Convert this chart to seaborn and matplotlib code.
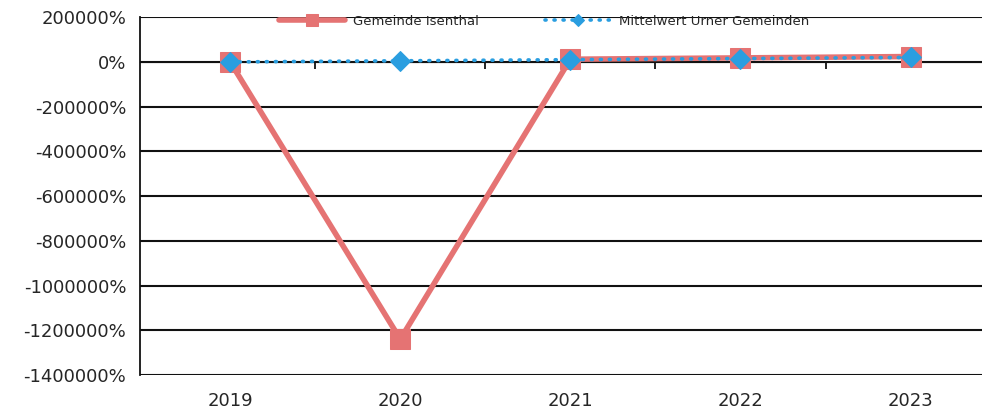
import numpy as np
import pandas as pd
import seaborn as sns
import matplotlib.pyplot as plt
from matplotlib.ticker import FuncFormatter

years = ['2019', '2020', '2021', '2022', '2023']
isenthal = [0, -1240000, 12000, 18000, 24000]
mittelwert = [0, 5000, 10000, 15000, 20000]
yticks = list(range(-1400000, 200001, 200000))

df = pd.DataFrame({'pos': range(len(years)), 'year': years,
                   'Gemeinde Isenthal': isenthal,
                   'Mittelwert Urner Gemeinden': mittelwert})

sns.set_style("white")
plt.rcParams['font.family'] = ['DejaVu Sans']

fig = plt.figure(figsize=(9.82, 4.19), dpi=100)
ax = fig.add_axes([0.1426, 0.105, 0.8574, 0.854])

sns.lineplot(data=df, x='pos', y='Gemeinde Isenthal', ax=ax, color='#e57373',
             linewidth=4, marker='s', markersize=15, markeredgecolor='#e57373',
             label='Gemeinde Isenthal', zorder=3)
sns.lineplot(data=df, x='pos', y='Mittelwert Urner Gemeinden', ax=ax, color='#2a9ee0',
             linewidth=2.6, linestyle=(0, (0.3, 2.2)), dash_capstyle='round',
             marker='D', markersize=10, markeredgecolor='#2a9ee0',
             label='Mittelwert Urner Gemeinden', zorder=4)

ax.set_xlim(-0.53, 4.42)
ax.set_ylim(-1400000, 200000)
ax.set_yticks(yticks)
ax.yaxis.set_major_formatter(FuncFormatter(lambda v, p: f'{int(v)}%'))
ax.set_xticks(range(len(years)))
ax.set_xticklabels(years)
ax.tick_params(axis='x', length=0, labelsize=13, pad=12)
ax.tick_params(axis='y', length=0, labelsize=13, pad=10)
ax.set_xlabel('')
ax.set_ylabel('')
ax.yaxis.grid(True, color='#111111', linewidth=1.5)
ax.set_axisbelow(True)
for s in ['top', 'right', 'bottom']:
    ax.spines[s].set_visible(False)
ax.spines['left'].set_color('#111111')
ax.spines['left'].set_linewidth(1.3)

# category axis crossing at 0 with tick marks between categories
sec = ax.secondary_xaxis(1400000 / 1600000)
sec.set_xticks([0.5, 1.5, 2.5, 3.5])
sec.set_xticklabels([])
sec.tick_params(axis='x', length=5, width=1.3, color='#111111', direction='in')
sec.spines['bottom'].set_color('#111111')
sec.spines['bottom'].set_linewidth(1.5)

ax.legend(loc='upper center', bbox_to_anchor=(0.48, 1.04), ncol=2, frameon=False,
          fontsize=9.5, handlelength=5, columnspacing=5, handletextpad=0.6,
          markerscale=0.6)

fig.savefig('out.png', dpi=100)
